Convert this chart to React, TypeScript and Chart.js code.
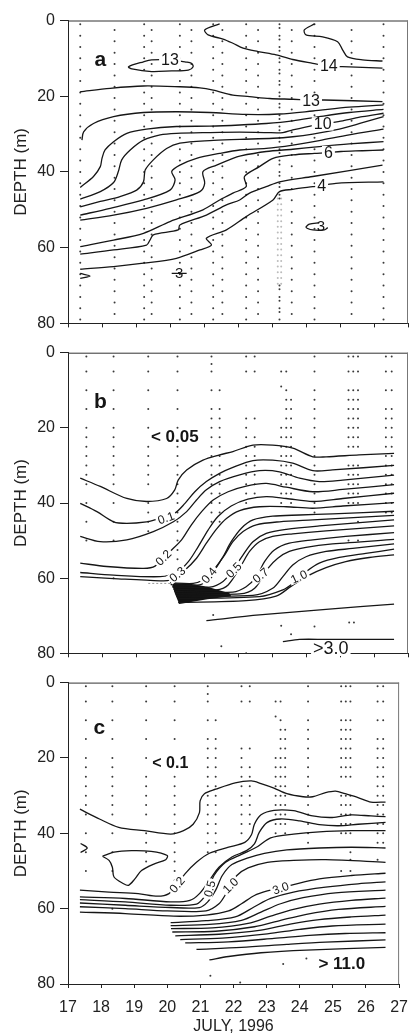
import React, { useEffect, useRef } from 'react';
import { Chart, registerables } from 'chart.js';

Chart.register(...registerables);

type Pt = [number, number];
type Label = { text: string; day: number; depth: number; angle?: number; kind: string };

const FONT = "'Liberation Sans', Arial, Helvetica, sans-serif";
Chart.defaults.font.family = FONT;

// ---------- axes ----------
const dayTicks = [17, 18, 19, 20, 21, 22, 23, 24, 25, 26, 27];
const depthTicks = [0, 20, 40, 60, 80];
const xTitle = 'JULY, 1996';
const yTitle = 'DEPTH (m)';

// ---------- panel a : temperature contours ----------
const aT14a: Pt[] = [[21.46, 0.9], [21.02, 2.5], [21.12, 3.8], [21.56, 4.9], [21.85, 6.0], [22.15, 7.3], [22.59, 8.2], [23.12, 9.1], [23.61, 10.3], [24.2, 11.3], [24.64, 12.0], [25.07, 12.2], [26.25, 12.6]];
const aT14b: Pt[] = [[24.25, 0.9], [23.95, 2.5], [24.0, 3.8], [24.49, 4.3], [24.93, 5.6], [25.08, 7.8], [25.22, 9.6], [25.66, 10.4], [26.25, 10.7]];
const aT13loop: Pt[] = [[20.44, 10.9], [20.0, 10.4], [19.46, 10.4], [19.22, 10.9], [18.78, 12.2], [18.88, 12.8], [19.46, 13.5], [20.05, 13.3], [20.54, 13.1], [20.68, 12.2], [20.63, 11.3], [20.44, 10.9]];
const aT13: Pt[] = [[17.36, 18.8], [18.24, 17.9], [19.22, 17.3], [20.29, 17.5], [20.88, 17.8], [21.27, 18.4], [21.85, 19.7], [22.34, 20.1], [22.93, 20.6], [23.61, 20.8], [24.15, 21.0], [24.54, 21.0], [26.25, 21.4]];
const aT12: Pt[] = [[17.41, 31.6], [17.46, 29.4], [17.75, 27.2], [18.34, 25.4], [19.22, 24.3], [20.19, 24.1], [21.17, 24.3], [22.24, 24.8], [23.22, 24.7], [24.2, 23.9], [25.27, 22.9], [26.28, 22.3]];
const aT11: Pt[] = [[17.36, 44.1], [17.75, 41.2], [17.95, 38.6], [18.0, 36.4], [18.09, 34.2], [18.34, 32.0], [18.73, 29.8], [19.31, 28.7], [20.19, 28.0], [21.17, 27.9], [22.05, 27.6], [22.83, 27.2], [23.61, 26.5], [24.39, 25.4], [25.27, 24.3], [26.28, 23.5]];
const aT10: Pt[] = [[17.36, 47.2], [17.95, 45.2], [18.34, 42.8], [18.48, 39.9], [18.58, 36.8], [18.83, 34.2], [19.22, 31.6], [19.71, 30.2], [20.19, 29.8], [21.17, 29.6], [22.05, 29.5], [22.83, 29.6], [23.32, 29.6], [23.61, 28.9], [23.95, 28.2], [24.49, 27.3], [25.08, 26.5], [25.66, 25.4], [26.28, 24.5]];
const aT9: Pt[] = [[17.36, 49.2], [17.95, 47.8], [18.53, 46.5], [19.02, 44.8], [19.22, 42.6], [19.27, 39.5], [19.51, 36.8], [19.9, 33.8], [20.29, 32.4], [21.17, 31.7], [22.05, 31.4], [23.03, 31.1], [23.61, 30.7], [24.2, 30.0], [24.98, 28.7], [25.66, 27.0], [26.28, 25.4]];
const aT8: Pt[] = [[17.36, 51.4], [18.24, 49.6], [19.22, 47.4], [20.0, 44.8], [20.15, 42.1], [20.05, 39.9], [20.29, 38.2], [20.78, 36.4], [21.46, 35.1], [22.05, 34.2], [22.83, 33.8], [23.61, 32.9], [24.39, 31.7], [25.27, 30.2], [26.28, 28.7]];
const aT7: Pt[] = [[17.36, 52.7], [18.34, 51.4], [19.31, 49.6], [20.19, 47.4], [20.88, 45.2], [21.02, 43.0], [20.97, 39.9], [21.37, 38.2], [21.85, 36.4], [22.05, 35.8], [22.83, 34.6], [23.61, 34.0], [24.39, 33.3], [25.27, 32.6], [26.28, 32.0]];
const aT6: Pt[] = [[17.36, 59.7], [18.34, 58.0], [19.22, 56.2], [20.0, 53.1], [20.97, 50.0], [21.46, 47.4], [21.85, 45.6], [22.24, 43.9], [22.19, 41.2], [22.63, 38.6], [23.03, 36.4], [23.61, 35.5], [24.25, 35.1], [24.64, 34.9], [25.03, 34.6], [25.66, 34.4], [26.28, 34.2]];
const aT5: Pt[] = [[17.36, 61.7], [18.34, 60.6], [19.31, 59.3], [19.41, 58.0], [19.51, 56.6], [20.24, 55.3], [20.29, 54.0], [21.07, 51.4], [21.66, 48.7], [22.05, 47.4], [22.34, 45.6], [22.83, 43.9], [23.22, 42.6], [24.2, 41.2], [26.25, 38.2]];
const aT4: Pt[] = [[17.36, 65.7], [18.34, 65.0], [19.22, 64.1], [20.19, 62.8], [20.88, 60.6], [21.22, 59.3], [21.07, 57.5], [21.66, 55.3], [22.24, 51.8], [23.03, 47.4], [23.22, 45.2], [23.61, 44.6], [24.2, 43.9], [24.46, 43.6], [24.88, 43.0], [26.28, 42.6]];
const aT3loop: Pt[] = [[24.39, 53.4], [24.1, 53.8], [24.0, 54.6], [24.2, 55.3], [24.54, 55.3], [24.64, 54.7]];
const aT3seg: Pt[] = [[20.05, 66.8], [20.49, 66.8]];
const aTmark: Pt[] = [[17.36, 66.8], [17.65, 67.5], [17.36, 68.1]];

const aLabels: Label[] = [
  { text: 'a', day: 17.95, depth: 10.3, kind: 'letter' },
  { text: '13', day: 20.0, depth: 10.4, kind: 'num' },
  { text: '14', day: 24.67, depth: 12.0, kind: 'num' },
  { text: '13', day: 24.15, depth: 21.1, kind: 'num' },
  { text: '10', day: 24.49, depth: 27.3, kind: 'num' },
  { text: '6', day: 24.66, depth: 34.9, kind: 'num' },
  { text: '4', day: 24.46, depth: 43.6, kind: 'num' },
  { text: '3', day: 24.44, depth: 54.3, kind: 'plain' },
  { text: '3', day: 20.27, depth: 66.6, kind: 'plain' },
];

// sampling stations of panel a
const aStationDays = [17.36, 18.37, 19.24, 19.46, 20.29, 20.63, 21.27, 21.54, 22.24, 22.59, 23.22, 23.58, 24.25, 25.34, 26.28];
const aStationSchedule = ['odd', 'even', 'odd', 'even', 'odd', 'even', 'odd', 'even', 'odd', 'even', 'dense', 'even', 'odd', 'even', 'odd'];
const aDepthsOdd = [1, 4, 7, 10, 13, 16, 19, 22, 25, 28, 31, 34, 37, 40, 43, 46, 49, 52, 55, 58, 61, 64, 67, 70, 73, 76, 79];
const aDepthsEven = [2.5, 5.5, 8.5, 11.5, 14.5, 17.5, 20.5, 23.5, 26.5, 29.5, 32.5, 35.5, 38.5, 41.5, 44.5, 47.5, 50.5, 53.5, 56.5, 59.5, 62.5, 65.5, 68.5, 71.5, 74.5, 77.5];
const aDepthsDense = [1, 2, 4, 5, 7, 8, 10, 11, 13, 14, 16, 17, 19, 20, 22, 23, 25, 26, 28, 29, 31, 32, 34, 35, 37, 38, 40, 41, 43, 44, 46, 47, 70, 71, 73, 74, 76, 77, 79];
const aGreyDays = [23.17, 23.27];
const aGreyDepths = [47, 48.5, 50, 51.5, 53, 54.5, 56, 57.5, 59, 60.5, 62, 63.5, 65, 66.5, 68, 69.5];

// ---------- panel b ----------
const bA: Pt[] = [[17.36, 33.4], [17.95, 35.6], [18.73, 38.8], [19.31, 39.6], [19.9, 38.8], [20.14, 36.5], [20.24, 33.9], [20.49, 31.2], [20.97, 28.6], [21.46, 27.2], [21.85, 26.3], [22.44, 24.6], [23.02, 24.6], [23.61, 25.4], [24.2, 27.7], [24.59, 27.7], [25.56, 27.2], [26.59, 26.8]];
const bB: Pt[] = [[17.36, 40.1], [17.85, 42.3], [18.34, 45.0], [18.73, 45.4], [19.31, 45.0], [19.61, 44.3], [20.14, 42.7], [20.44, 40.1], [20.73, 37.0], [21.07, 34.3], [21.46, 32.1], [21.85, 30.5], [22.44, 28.7], [23.02, 28.6], [23.61, 29.4], [24.2, 31.4], [24.78, 31.2], [26.59, 30.0]];
const bC: Pt[] = [[17.36, 48.9], [17.95, 50.3], [18.73, 49.8], [19.51, 47.6], [20.1, 45.0], [20.49, 42.3], [20.78, 39.2], [21.07, 36.5], [21.46, 34.3], [22.05, 32.5], [22.63, 31.4], [23.22, 31.7], [23.81, 33.4], [24.39, 34.3], [25.08, 33.9], [26.59, 32.6]];
const bD: Pt[] = [[17.36, 56.0], [18.14, 56.9], [19.22, 57.4], [19.56, 56.8], [20.0, 52.9], [20.34, 49.8], [20.63, 45.8], [20.93, 42.3], [21.27, 39.2], [21.71, 37.0], [22.24, 35.5], [22.83, 34.8], [23.42, 35.8], [24.2, 37.0], [25.08, 36.4], [26.59, 35.1]];
const bE: Pt[] = [[17.36, 58.5], [18.34, 59.2], [19.71, 59.6], [20.19, 58.5], [20.54, 55.6], [20.83, 51.6], [21.12, 47.2], [21.41, 43.6], [21.8, 40.8], [22.29, 39.0], [22.83, 38.3], [23.42, 38.8], [24.2, 39.6], [25.08, 38.8], [26.59, 37.4]];
const bF: Pt[] = [[17.36, 59.6], [18.34, 60.1], [19.71, 60.7], [20.0, 60.5], [20.44, 57.8], [20.78, 54.7], [21.07, 50.7], [21.36, 47.0], [21.66, 44.1], [22.05, 42.0], [22.63, 41.0], [23.42, 41.0], [24.2, 41.4], [25.08, 40.8], [26.59, 39.9]];
const bG: Pt[] = [[20.0, 61.2], [20.68, 61.4], [20.97, 60.5], [21.27, 58.3], [21.56, 54.3], [21.8, 50.3], [22.1, 46.7], [22.44, 44.5], [23.02, 43.5], [23.81, 43.2], [24.78, 42.9], [26.59, 42.2]];
const bH: Pt[] = [[20.02, 61.7], [20.68, 61.9], [20.97, 61.4], [21.32, 57.4], [21.61, 53.8], [21.85, 50.3], [22.15, 47.6], [22.54, 45.8], [23.22, 45.0], [24.2, 44.5], [26.59, 43.3]];
const bI: Pt[] = [[20.06, 62.3], [21.17, 62.4], [21.56, 60.9], [21.85, 57.8], [22.15, 53.8], [22.44, 50.3], [22.83, 48.1], [23.42, 47.0], [24.39, 46.1], [26.59, 44.5]];
const bJ: Pt[] = [[20.1, 62.9], [21.36, 63.1], [21.71, 61.8], [22.1, 56.5], [22.34, 52.9], [22.63, 50.3], [23.02, 48.9], [23.61, 48.2], [24.59, 47.4], [26.59, 46.1]];
const bK: Pt[] = [[20.13, 63.5], [21.85, 63.7], [22.24, 62.3], [22.54, 59.6], [22.78, 55.6], [23.07, 52.5], [23.51, 50.7], [24.2, 49.8], [25.17, 48.9], [26.59, 47.9]];
const bL: Pt[] = [[20.15, 64.1], [22.05, 64.2], [22.49, 62.7], [22.88, 57.4], [23.17, 54.7], [23.51, 52.9], [24.0, 51.8], [24.78, 50.9], [26.59, 49.7]];
const bM: Pt[] = [[20.18, 64.7], [22.44, 64.6], [23.02, 62.7], [23.32, 59.6], [23.61, 56.5], [24.0, 54.3], [24.59, 52.9], [25.37, 52.1], [26.59, 50.9]];
const bN: Pt[] = [[20.21, 65.4], [22.63, 64.9], [23.32, 63.1], [23.61, 61.4], [24.0, 58.3], [24.39, 56.0], [24.98, 54.5], [25.76, 53.4], [26.59, 52.3]];
const bO: Pt[] = [[20.24, 66.5], [22.24, 66.0], [23.12, 64.8], [23.56, 62.2], [24.05, 59.4], [24.59, 57.2], [25.17, 55.6], [25.86, 54.5], [26.59, 53.8]];
const bP: Pt[] = [[21.07, 71.3], [22.63, 69.8], [24.59, 68.3], [26.59, 66.9]];
const bQ: Pt[] = [[23.32, 76.9], [23.81, 76.3], [24.59, 76.3], [26.59, 76.3]];
const bWedge: Pt[] = [[20.05, 61.3], [20.6, 61.5], [21.1, 62.3], [21.75, 64.0], [21.8, 64.8], [21.1, 65.6], [20.27, 66.9], [20.14, 64.0]];
const bDash: Pt[] = [[19.36, 61.4], [20.05, 61.4]];

const bLabels: Label[] = [
  { text: 'b', day: 17.95, depth: 13.0, kind: 'letter' },
  { text: '< 0.05', day: 20.14, depth: 22.3, kind: 'region' },
  { text: '>3.0', day: 24.73, depth: 78.7, kind: 'regionThin' },
  { text: '0.1', day: 19.88, depth: 43.9, angle: -20, kind: 'small' },
  { text: '0.2', day: 19.8, depth: 54.5, angle: -45, kind: 'small' },
  { text: '0.3', day: 20.21, depth: 58.9, angle: -40, kind: 'small' },
  { text: '0.4', day: 21.14, depth: 59.2, angle: -50, kind: 'small' },
  { text: '0.5', day: 21.87, depth: 57.8, angle: -45, kind: 'small' },
  { text: '0.7', day: 22.66, depth: 59.2, angle: -40, kind: 'small' },
  { text: '1.0', day: 23.79, depth: 59.6, angle: -25, kind: 'small' },
];

// ---------- panel c ----------
const cA: Pt[] = [[17.36, 33.6], [17.95, 36.2], [18.53, 38.4], [19.31, 39.3], [20.1, 40.2], [20.49, 39.3], [20.78, 37.6], [20.97, 34.5], [20.99, 31.4], [21.12, 29.5], [21.46, 28.3], [22.05, 26.6], [22.54, 26.1], [22.83, 26.8], [23.22, 28.0], [23.61, 29.5], [24.1, 30.3], [24.39, 30.3], [24.78, 29.2], [25.08, 28.8], [25.37, 29.5], [25.76, 30.5], [26.15, 31.7], [26.59, 31.7]];
const cLoop: Pt[] = [[18.04, 46.1], [18.39, 45.0], [18.92, 44.6], [19.51, 44.8], [20.0, 45.9], [19.95, 47.0], [19.61, 48.1], [19.22, 49.9], [19.02, 52.1], [18.83, 53.8], [18.68, 53.4], [18.39, 51.6], [18.34, 49.0], [18.24, 47.2], [18.04, 46.1]];
const cMark: Pt[] = [[17.38, 42.7], [17.58, 43.9], [17.38, 45.1]];
const cB: Pt[] = [[17.36, 55.1], [18.24, 55.6], [19.12, 56.0], [19.71, 56.7], [20.05, 56.0], [20.29, 53.6], [20.54, 50.7], [20.88, 47.7], [21.27, 45.3], [21.85, 43.7], [22.34, 42.4], [22.54, 40.4], [22.63, 37.6], [22.83, 35.1], [23.22, 33.9], [23.81, 34.0], [24.39, 35.4], [24.98, 35.8], [25.56, 35.1], [26.15, 35.4], [26.59, 35.6]];
const cC: Pt[] = [[17.36, 56.9], [18.73, 57.3], [20.1, 58.2], [20.68, 57.8], [20.97, 56.0], [21.27, 52.5], [21.56, 49.0], [21.95, 46.3], [22.39, 44.6], [22.63, 42.8], [22.78, 39.7], [23.02, 37.1], [23.42, 36.2], [24.0, 36.7], [24.59, 37.7], [25.17, 38.0], [25.76, 37.6], [26.59, 37.1]];
const cD: Pt[] = [[17.36, 57.6], [18.73, 58.2], [20.1, 59.1], [20.88, 58.8], [21.12, 56.9], [21.27, 54.3], [21.41, 51.2], [21.76, 47.7], [22.24, 45.6], [22.73, 43.5], [23.12, 41.2], [23.81, 40.2], [24.59, 39.6], [25.56, 39.3], [26.59, 39.3]];
const cE: Pt[] = [[17.36, 58.5], [18.73, 59.1], [20.1, 59.7], [20.97, 59.7], [21.22, 58.2], [21.46, 55.1], [21.66, 51.2], [21.95, 48.3], [22.44, 46.5], [22.93, 45.3], [23.61, 44.4], [24.59, 43.9], [25.56, 43.7], [26.59, 43.9]];
const cF: Pt[] = [[17.36, 59.5], [18.73, 60.0], [20.0, 60.6], [21.17, 60.6], [21.56, 58.7], [21.76, 56.2], [21.9, 53.8], [22.1, 51.2], [22.44, 49.2], [23.02, 47.7], [23.81, 47.2], [24.78, 47.0], [26.59, 47.7]];
const cG: Pt[] = [[17.36, 60.9], [18.73, 61.3], [20.19, 62.0], [21.17, 61.7], [21.85, 60.6], [22.24, 58.7], [22.63, 56.5], [23.02, 55.3], [23.42, 54.5], [23.81, 53.6], [24.59, 52.1], [25.56, 51.2], [26.59, 50.6]];
const cH1: Pt[] = [[20.1, 63.7], [21.17, 63.2], [22.05, 62.2], [22.63, 59.5], [23.12, 57.3], [23.81, 55.6], [24.78, 54.3], [25.76, 53.4], [26.59, 52.9]];
const cH2: Pt[] = [[20.1, 64.5], [21.27, 64.2], [22.24, 63.1], [22.83, 60.9], [23.42, 58.7], [24.1, 57.1], [25.08, 55.8], [26.59, 55.1]];
const cH3: Pt[] = [[20.11, 65.3], [21.36, 65.1], [22.44, 63.9], [23.12, 62.0], [23.81, 60.2], [24.59, 58.8], [25.56, 57.8], [26.59, 57.2]];
const cH4: Pt[] = [[20.15, 66.2], [21.46, 66.0], [22.63, 64.8], [23.42, 63.1], [24.2, 61.5], [25.17, 60.2], [26.59, 59.4]];
const cH5: Pt[] = [[20.24, 67.2], [21.56, 66.8], [22.83, 65.7], [23.71, 64.1], [24.59, 62.9], [25.56, 62.2], [26.59, 61.7]];
const cH6: Pt[] = [[20.39, 68.2], [21.66, 67.8], [23.02, 66.7], [24.0, 65.5], [24.98, 64.6], [26.59, 64.1]];
const cH7: Pt[] = [[20.54, 69.1], [21.85, 68.8], [23.22, 67.9], [24.29, 67.1], [25.37, 66.6], [26.59, 66.4]];
const cH8: Pt[] = [[20.88, 70.8], [22.24, 70.3], [23.61, 69.5], [24.78, 68.9], [26.59, 68.3]];
const cH9: Pt[] = [[21.27, 73.6], [21.85, 72.7], [22.83, 71.7], [24.2, 71.0], [26.59, 70.3]];

const cLabels: Label[] = [
  { text: 'c', day: 17.95, depth: 11.9, kind: 'letter' },
  { text: '< 0.1', day: 20.09, depth: 21.1, kind: 'regionSmall' },
  { text: '> 11.0', day: 25.27, depth: 74.5, kind: 'region' },
  { text: '0.2', day: 20.29, depth: 53.6, angle: -50, kind: 'small' },
  { text: '0.5', day: 21.27, depth: 54.7, angle: -75, kind: 'small' },
  { text: '1.0', day: 21.9, depth: 53.8, angle: -45, kind: 'small' },
  { text: '3.0', day: 23.42, depth: 54.5, angle: -20, kind: 'small' },
];

// sampling stations of panels b and c
const bcStationDays = [17.54, 18.34, 19.36, 20.22, 21.22, 21.46, 22.24, 22.49, 23.27, 23.42, 23.56, 24.25, 25.25, 25.39, 25.53, 26.35, 26.52];
const bcStationDepths: number[][] = [
  [1, 5, 10, 15, 20, 22.5, 25, 27.5, 30, 32.5, 35, 40, 45, 50],
  [1, 5, 10, 15, 20, 22.5, 25, 27.5, 30, 32.5, 35, 40, 45, 50, 60],
  [1, 5, 10, 15, 20, 25, 27.5, 30, 32.5, 35, 40, 42.5, 45, 47.5],
  [1, 5, 10, 15, 20, 22.5, 25, 27.5, 30, 32.5, 35, 37.5, 40, 42.5, 45, 47.5, 50, 52.5, 55],
  [1, 3, 5, 10, 15, 17.5, 20, 22.5, 25, 27.5, 30, 32.5, 35, 37.5, 40, 42.5, 45],
  [10, 15, 17.5, 20, 22.5, 25, 27.5, 30, 32.5, 35, 37.5, 40, 42.5, 45],
  [1, 5, 17.5, 20, 22.5, 25, 27.5, 30, 32.5, 35, 37.5, 40],
  [1, 5, 17.5, 22.5, 25, 27.5, 30, 32.5, 35, 37.5],
  [5, 9, 20, 22.5, 25, 27.5, 30, 32.5, 35, 37.5, 40],
  [5, 10, 12.5, 15, 17.5, 20, 22.5, 25, 27.5, 30, 32.5, 35, 37.5],
  [12.5, 15, 17.5, 20, 22.5, 25, 27.5, 30, 32.5, 35, 37.5, 40],
  [1, 5, 10, 12.5, 15, 17.5, 20, 22.5, 25, 27.5, 30, 32.5, 35, 37.5, 40, 42.5],
  [1, 5, 10, 12.5, 15, 17.5, 20, 22.5, 25, 30, 32.5, 35, 37.5, 40, 50],
  [1, 5, 10, 12.5, 15, 17.5, 20, 22.5, 25, 30, 32.5, 35, 37.5, 40],
  [1, 5, 10, 12.5, 15, 17.5, 20, 22.5, 25, 30, 32.5, 35, 37.5, 40, 45, 50],
  [1, 5, 10, 15, 17.5, 20, 22.5, 25, 27.5, 30, 32.5, 35, 37.5, 40, 42.5],
  [1, 5, 10, 15, 17.5, 20, 22.5, 25, 27.5, 30, 32.5, 35, 37.5, 40, 42.5],
];
const bExtraDots: Pt[] = [[21.27, 69.8], [23.27, 72.7], [24.25, 72.9], [25.27, 71.8], [25.41, 71.8], [23.56, 74.9], [21.51, 78.1], [22.24, 80]];
const cExtraDots: Pt[] = [[21.3, 77.8], [22.2, 79.6], [23.5, 74.7], [24.2, 73.2], [25.53, 47], [26.35, 47]];

// ---------- drawing ----------
const labelStyle: Record<string, { size: number; bold: boolean; mask: boolean }> = {
  letter: { size: 21, bold: true, mask: false },
  num: { size: 16, bold: false, mask: true },
  plain: { size: 15, bold: false, mask: false },
  small: { size: 12, bold: false, mask: true },
  region: { size: 17, bold: true, mask: true },
  regionSmall: { size: 16, bold: true, mask: true },
  regionThin: { size: 18, bold: false, mask: true },
};

function toXY(pts: Pt[]) {
  return pts.map(([x, y]) => ({ x, y }));
}

function makeOverlay(labels: Label[], fills: Pt[][]) {
  return {
    id: 'overlay',
    beforeDatasetsDraw(chart: any) {
      const { ctx, scales } = chart;
      const sx = scales.x, sy = scales.y;
      ctx.save();
      ctx.fillStyle = '#111';
      for (const poly of fills) {
        ctx.beginPath();
        poly.forEach(([d, z], i) => {
          const px = sx.getPixelForValue(d), py = sy.getPixelForValue(z);
          if (i === 0) ctx.moveTo(px, py); else ctx.lineTo(px, py);
        });
        ctx.closePath();
        ctx.fill();
      }
      ctx.restore();
    },
    afterDatasetsDraw(chart: any) {
      const { ctx, chartArea: a, scales } = chart;
      const sx = scales.x, sy = scales.y;
      for (const lb of labels) {
        const st = labelStyle[lb.kind];
        const px = sx.getPixelForValue(lb.day), py = sy.getPixelForValue(lb.depth);
        ctx.save();
        ctx.translate(px, py);
        ctx.rotate(((lb.angle || 0) * Math.PI) / 180);
        ctx.font = `${st.bold ? 'bold ' : ''}${st.size}px ${FONT}`;
        ctx.textAlign = 'center';
        ctx.textBaseline = 'middle';
        if (st.mask) {
          const w = ctx.measureText(lb.text).width;
          ctx.fillStyle = '#fff';
          ctx.fillRect(-w / 2 - 2, -st.size * 0.42, w + 4, st.size * 0.84);
        }
        ctx.fillStyle = '#151515';
        ctx.fillText(lb.text, 0, 1);
        ctx.restore();
      }
      ctx.save();
      ctx.lineWidth = 1;
      ctx.strokeStyle = '#333';
      ctx.beginPath();
      ctx.moveTo(a.left, a.top + 0.5);
      ctx.lineTo(a.right, a.top + 0.5);
      ctx.stroke();
      ctx.strokeStyle = '#777';
      ctx.beginPath();
      ctx.moveTo(a.right - 0.5, a.top);
      ctx.lineTo(a.right - 0.5, a.bottom);
      ctx.stroke();
      ctx.restore();
    },
  };
}

type PanelProps = {
  top: number;
  height: number;
  padTop: number;
  xAxisH: number;
  showX: boolean;
  lines: Pt[][];
  dots: Pt[];
  greyDots: Pt[];
  dashed: Pt[][];
  labels: Label[];
  fills: Pt[][];
};

function Panel(p: PanelProps) {
  const ref = useRef<HTMLCanvasElement>(null);
  useEffect(() => {
    const datasets: any[] = [];
    p.lines.forEach((ln) => {
      datasets.push({
        data: toXY(ln), showLine: true, pointRadius: 0, borderColor: '#161616',
        borderWidth: 1.3, tension: 0.3, fill: false,
      });
    });
    p.dashed.forEach((ln) => {
      datasets.push({
        data: toXY(ln), showLine: true, pointRadius: 0, borderColor: '#999',
        borderWidth: 1, borderDash: [2, 2], fill: false,
      });
    });
    datasets.push({
      data: toXY(p.dots), showLine: false, pointRadius: 1, pointBorderWidth: 0,
      pointBackgroundColor: '#3a3a3a', borderColor: '#3a3a3a',
    });
    datasets.push({
      data: toXY(p.greyDots), showLine: false, pointRadius: 1, pointBorderWidth: 0,
      pointBackgroundColor: '#bbb', borderColor: '#bbb',
    });
    const chart = new Chart(ref.current as HTMLCanvasElement, {
      type: 'scatter',
      data: { datasets },
      options: {
        responsive: false,
        animation: false,
        events: [],
        layout: { padding: { top: p.padTop, right: 9, left: 0, bottom: 0 } },
        plugins: { legend: { display: false }, tooltip: { enabled: false } },
        scales: {
          x: {
            type: 'linear', min: 17, max: 27, position: 'bottom',
            afterBuildTicks: (s: any) => { s.ticks = dayTicks.map((v) => ({ value: v })); },
            afterFit: (s: any) => { s.height = p.xAxisH; },
            ticks: {
              font: { size: 16, family: FONT }, color: '#222', padding: 10, maxRotation: 0, autoSkip: false,
              callback: (v: any) => (p.showX ? String(v) : ''),
            },
            grid: { drawOnChartArea: false, drawTicks: true, tickLength: 4, color: '#222' },
            border: { display: true, color: '#222', width: 1 },
            title: { display: p.showX, text: xTitle, font: { size: 16, family: FONT }, color: '#222', padding: { top: 0, bottom: 0 } },
          },
          y: {
            type: 'linear', reverse: true, min: 0, max: 80,
            afterBuildTicks: (s: any) => { s.ticks = depthTicks.map((v) => ({ value: v })); },
            afterFit: (s: any) => { s.width = 68; },
            ticks: { font: { size: 16, family: FONT }, color: '#222', padding: 5 },
            grid: { drawOnChartArea: false, drawTicks: true, tickLength: 8, color: '#222' },
            border: { display: true, color: '#222', width: 1 },
            title: { display: true, text: yTitle, font: { size: 17, family: FONT }, color: '#222', padding: { top: 11, bottom: 0 } },
          },
        },
      } as any,
      plugins: [makeOverlay(p.labels, p.fills)],
    });
    return () => chart.destroy();
  }, []);
  return (
    <canvas
      ref={ref}
      width={418}
      height={p.height}
      style={{ position: 'absolute', left: 0, top: p.top, width: 418, height: p.height, display: 'block' }}
    />
  );
}

function aDotPoints(): Pt[] {
  const out: Pt[] = [];
  aStationDays.forEach((d, i) => {
    const sched = aStationSchedule[i];
    const depths = sched === 'odd' ? aDepthsOdd : sched === 'even' ? aDepthsEven : aDepthsDense;
    depths.forEach((z) => out.push([d, z]));
  });
  return out;
}
function aGreyPoints(): Pt[] {
  const out: Pt[] = [];
  aGreyDays.forEach((d) => aGreyDepths.forEach((z) => out.push([d, z])));
  return out;
}
function bcDotPoints(extra: Pt[]): Pt[] {
  const out: Pt[] = [];
  bcStationDays.forEach((d, i) => bcStationDepths[i].forEach((z) => out.push([d, z])));
  return out.concat(extra);
}

export default function App() {
  return (
    <div style={{ position: 'absolute', left: 0, top: 0, width: 418, height: 1036, background: '#fff', overflow: 'hidden' }}>
      <Panel
        top={0} height={338} padTop={20.5} xAxisH={14.5} showX={false}
        lines={[aT14a, aT14b, aT13loop, aT13, aT12, aT11, aT10, aT9, aT8, aT7, aT6, aT5, aT4, aT3loop, aT3seg, aTmark]}
        dots={aDotPoints()} greyDots={aGreyPoints()} dashed={[]} labels={aLabels} fills={[]}
      />
      <Panel
        top={338} height={330} padTop={14.7} xAxisH={14.7} showX={false}
        lines={[bA, bB, bC, bD, bE, bF, bG, bH, bI, bJ, bK, bL, bM, bN, bO, bP, bQ]}
        dots={bcDotPoints(bExtraDots)} greyDots={[]} dashed={[bDash]} labels={bLabels} fills={[bWedge]}
      />
      <Panel
        top={668} height={368} padTop={13} xAxisH={52} showX={true}
        lines={[cA, cLoop, cMark, cB, cC, cD, cE, cF, cG, cH1, cH2, cH3, cH4, cH5, cH6, cH7, cH8, cH9]}
        dots={bcDotPoints(cExtraDots)} greyDots={[]} dashed={[]} labels={cLabels} fills={[]}
      />
    </div>
  );
}
